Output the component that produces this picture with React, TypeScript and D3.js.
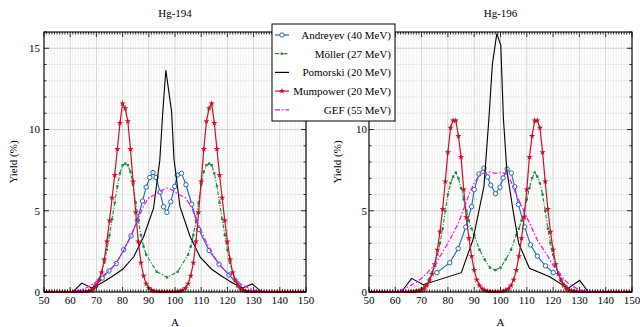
import React from "react";
import * as d3 from "d3";

const W = 640;
const H = 327;
const FONT = "'Liberation Serif', 'Times New Roman', serif";

// mass number grid used by the Mumpower series (A = 50 .. 150)
const massGrid = d3.range(50, 151);

const mumpower194 = [
  0, 0, 0, 0, 0, 0, 0, 0, 0, 0,
  0, 0, 0, 0, 0, 0.01, 0.02, 0.05, 0.1, 0.2,
  0.4, 0.7, 1.2, 2.0, 3.1, 4.4, 5.8, 7.2, 8.8, 10.4,
  11.6, 11.3, 10.5, 8.8, 6.8, 4.9, 3.1, 1.8, 1.0, 0.5,
  0.25, 0.12, 0.06, 0.03, 0.02, 0.01, 0.01, 0.01, 0.01, 0.01,
  0.02, 0.03, 0.06, 0.12, 0.25, 0.5, 1.0, 1.8, 3.1, 4.9,
  6.8, 8.8, 10.5, 11.3, 11.6, 10.4, 8.8, 7.2, 5.8, 4.4,
  3.1, 2.0, 1.2, 0.7, 0.4, 0.2, 0.1, 0.05, 0.02, 0.01,
  0, 0, 0, 0, 0, 0, 0, 0, 0, 0,
  0, 0, 0, 0, 0, 0, 0, 0, 0, 0,
  0,
];

const mumpower196 = [
  0, 0, 0, 0, 0, 0, 0, 0, 0, 0,
  0, 0, 0, 0, 0, 0, 0.01, 0.02, 0.04, 0.07,
  0.12, 0.2, 0.4, 0.7, 1.1, 1.7, 2.6, 3.7, 5.1, 6.8,
  8.6, 10.1, 10.55, 10.55, 9.6, 8.3, 6.3, 4.6, 3.3, 2.2,
  1.35, 0.75, 0.4, 0.2, 0.1, 0.05, 0.03, 0.02, 0.02, 0.02,
  0.03, 0.05, 0.1, 0.2, 0.4, 0.75, 1.35, 2.2, 3.3, 4.6,
  6.3, 8.3, 9.6, 10.55, 10.55, 10.1, 8.6, 6.8, 5.1, 3.7,
  2.6, 1.7, 1.1, 0.7, 0.4, 0.2, 0.12, 0.07, 0.04, 0.02,
  0.01, 0, 0, 0, 0, 0, 0, 0, 0, 0,
  0, 0, 0, 0, 0, 0, 0, 0, 0, 0,
  0,
];

const andreyev194: [number, number][] = [
  [69.8, 0.4], [72.2, 0.85], [74.8, 1.3], [77.6, 1.75], [80.4, 2.6], [83.2, 3.45],
  [85.6, 4.4], [87.6, 5.6], [89.0, 6.45], [90.4, 7.05], [91.6, 7.35], [92.8, 7.05],
  [94.3, 6.15], [95.6, 5.25], [96.9, 4.9], [98.4, 5.55], [99.9, 6.5], [100.9, 7.2],
  [102.5, 7.3], [104.2, 6.6], [106.4, 5.4], [109.1, 3.85], [113.0, 2.55], [116.8, 1.72],
  [120.6, 1.05], [124.3, 0.42],
];

const andreyev196: [number, number][] = [
  [75.8, 1.19], [80.7, 1.8], [83.9, 2.67], [86.8, 4.0], [89.0, 5.25], [90.0, 6.3],
  [91.8, 7.26], [93.7, 7.62], [95.1, 7.08], [96.3, 6.58], [98.1, 6.05], [99.8, 6.45],
  [101.0, 7.02], [102.5, 7.57], [104.1, 7.32], [105.4, 6.48], [106.8, 5.38], [109.2, 4.0],
  [111.4, 2.9], [114.0, 2.21], [117.1, 1.61], [120.1, 1.19],
];

const moller194: [number, number][] = [
  [60, 0], [62, 0], [64, 0.02], [66, 0.05], [68, 0.15],
  [69, 0.3], [70, 0.5], [71, 0.8], [72, 1.2], [73, 1.8], [74, 2.6], [75, 3.5], [76, 4.5],
  [77, 5.5], [78, 6.5], [79, 7.3], [80, 7.8], [81, 7.9], [82, 7.8], [83, 7.4], [84, 6.6],
  [85, 5.5], [86, 4.4], [87, 3.5], [88, 2.8], [89, 2.3],
  [93, 1.25], [97, 0.9], [101, 1.25],
  [105, 2.3], [106, 2.8], [107, 3.5], [108, 4.4], [109, 5.5], [110, 6.6], [111, 7.4],
  [112, 7.8], [113, 7.9], [114, 7.8], [115, 7.3], [116, 6.5], [117, 5.5], [118, 4.5],
  [119, 3.5], [120, 2.6], [121, 1.8], [122, 1.2], [123, 0.8], [124, 0.5], [125, 0.3], [126, 0.15],
  [128, 0.05], [130, 0.02], [132, 0], [134, 0],
];

const moller196: [number, number][] = [
  [62, 0], [64, 0], [66, 0.03], [68, 0.1],
  [70, 0.2], [71, 0.35], [72, 0.5], [73, 0.8], [74, 1.2], [75, 1.6], [76, 2.3], [77, 3.0],
  [78, 3.9], [79, 5.0], [80, 6.0], [81, 6.7], [82, 7.1], [83, 7.35], [84, 7.0], [85, 6.4],
  [86, 5.7], [87, 5.0], [88, 4.4], [89, 3.9], [90, 3.5],
  [92, 2.6], [94, 2.0], [96, 1.5], [98, 1.35], [100, 1.5], [102, 2.0], [104, 2.6],
  [106, 3.5], [107, 3.9], [108, 4.4], [109, 5.0], [110, 5.7], [111, 6.4], [112, 7.0],
  [113, 7.35], [114, 7.1], [115, 6.7], [116, 6.0], [117, 5.0], [118, 3.9], [119, 3.0],
  [120, 2.3], [121, 1.6], [122, 1.2], [123, 0.8], [124, 0.5], [125, 0.35], [126, 0.2],
  [128, 0.1], [130, 0.03], [132, 0], [134, 0],
];

const pomorski194: [number, number][] = [
  [50, 0], [61, 0], [64.4, 0.55], [68.2, 0.25], [72, 0.55], [76, 0.95], [80, 1.4],
  [84.2, 2.15], [88, 3.4], [91.8, 5.15], [94.2, 8.1], [95.3, 11.0], [96.5, 13.65],
  [98.7, 11.1], [99.6, 8.2], [101.9, 5.25], [105.8, 3.4], [109.6, 2.15], [114, 1.4],
  [118, 0.95], [122, 0.55], [125.8, 0.25], [129.5, 0.5], [133, 0], [150, 0],
];

const pomorski196: [number, number][] = [
  [50, 0], [62.3, 0], [66.2, 0.84], [70.6, 0.45], [85.1, 1.19], [89.5, 3.2], [93.7, 6.5],
  [95.6, 10.7], [96.9, 14.0], [98.6, 15.9], [100.1, 15.2], [101.1, 10.7], [102.4, 7.5],
  [104.9, 4.9], [106.9, 3.0], [111, 1.46], [118.7, 0.94], [125.7, 0.22], [130.1, 0.72],
  [133.4, 0], [150, 0],
];

const gef194: [number, number][] = [
  [58, 0], [60, 0.02], [62, 0.05], [64, 0.12], [66, 0.25], [68, 0.42], [70, 0.65],
  [72, 0.9], [74, 1.2], [76, 1.5], [78, 1.9], [80, 2.45], [82, 3.05], [84, 3.75],
  [86, 4.55], [88, 5.3], [90, 5.8], [92, 5.95], [94, 6.15], [96, 6.35], [97, 6.4],
  [98, 6.35], [100, 6.15], [102, 5.95], [104, 5.8], [106, 5.3], [108, 4.55], [110, 3.75],
  [112, 3.05], [114, 2.45], [116, 1.9], [118, 1.5], [120, 1.2], [122, 0.9], [124, 0.65],
  [126, 0.42], [128, 0.25], [130, 0.12], [132, 0.05], [134, 0.02], [136, 0],
];

const gef196: [number, number][] = [
  [58, 0], [60, 0.03], [62, 0.1], [64, 0.25], [66, 0.42], [68, 0.6], [70, 0.85],
  [72, 1.15], [74, 1.5], [76, 1.95], [78, 2.45], [80, 3.0], [82, 3.6], [84, 4.25],
  [86, 5.1], [88, 6.0], [90, 6.7], [92, 7.2], [94, 7.35], [96, 7.4], [98, 7.3],
  [100, 7.35], [102, 7.3], [104, 6.8], [106, 6.0], [108, 5.3], [110, 4.6], [112, 3.9],
  [114, 3.2], [116, 2.7], [118, 2.2], [120, 1.65], [122, 1.2], [124, 0.8], [126, 0.5],
  [128, 0.3], [130, 0.15], [132, 0.07], [134, 0.02], [136, 0],
];

const xTicks = [50, 60, 70, 80, 90, 100, 110, 120, 130, 140, 150];
const yTicks = [0, 5, 10, 15];

const legendItems = [
  { key: "andreyev", label: "Andreyev (40 MeV)" },
  { key: "moller", label: "Möller (27 MeV)" },
  { key: "pomorski", label: "Pomorski (20 MeV)" },
  { key: "mumpower", label: "Mumpower (20 MeV)" },
  { key: "gef", label: "GEF (55 MeV)" },
];

const C = {
  andreyev: "#1f6aa5",
  moller: "#1f8a3f",
  pomorski: "#000000",
  mumpower: "#c8102e",
  gef: "#ff00ff",
};
const DASH = { moller: "4,1.6,1.2,1.6", gef: "5,2,1.5,2" };

const TOP = 32;
const BOTTOM = 292;

function Marker({ kind, cx, cy }: { kind: string; cx: number; cy: number }) {
  if (kind === "andreyev")
    return <circle cx={cx} cy={cy} r={2.2} fill="white" stroke={C.andreyev} strokeWidth={1} />;
  if (kind === "moller")
    return <rect x={cx - 1.2} y={cy - 1.2} width={2.4} height={2.4} fill={C.moller} />;
  if (kind === "mumpower")
    return (
      <path
        transform={`translate(${cx},${cy})`}
        d={d3.symbol(d3.symbolStar, 12)() || ""}
        fill={C.mumpower}
      />
    );
  return null;
}

function Panel({ left, right, title, series, labelGap, yLabelX }: any) {
  const x = d3.scaleLinear().domain([50, 150]).range([left, right]);
  const y = d3.scaleLinear().domain([0, 16]).range([BOTTOM, TOP]);
  const line = d3
    .line<[number, number]>()
    .x((d) => x(d[0]))
    .y((d) => y(d[1]));
  const minorX = d3.range(50, 151);
  const minorY = d3.range(0, 17);
  const clipId = "clip" + left;
  const cx = (left + right) / 2;

  return (
    <g>
      <defs>
        <clipPath id={clipId}>
          <rect x={left} y={TOP - 1} width={right - left} height={BOTTOM - TOP + 2} />
        </clipPath>
      </defs>
      {/* grid */}
      {minorX.map((a) => (
        <line key={"gx" + a} x1={x(a)} x2={x(a)} y1={TOP} y2={BOTTOM}
          stroke={a % 10 === 0 ? "#cdcdcd" : "#ececec"} strokeWidth={a % 10 === 0 ? 0.9 : 0.7} />
      ))}
      {minorY.map((v) => (
        <line key={"gy" + v} x1={left} x2={right} y1={y(v)} y2={y(v)}
          stroke={v % 5 === 0 ? "#cdcdcd" : "#e6e6e6"} strokeWidth={v % 5 === 0 ? 0.9 : 0.8} />
      ))}

      {/* series */}
      <g clipPath={`url(#${clipId})`} fill="none">
        <path d={line(series.andreyev) || ""} stroke={C.andreyev} strokeWidth={1.1} fill="none" />
        {series.andreyev.map((d: number[], i: number) => (
          <Marker key={"a" + i} kind="andreyev" cx={x(d[0])} cy={y(d[1])} />
        ))}
        <path d={line(series.moller) || ""} stroke={C.moller} strokeWidth={1.1}
          strokeDasharray={DASH.moller} fill="none" />
        {series.moller.map((d: number[], i: number) => (
          <Marker key={"m" + i} kind="moller" cx={x(d[0])} cy={y(d[1])} />
        ))}
        <path d={line(series.pomorski) || ""} stroke={C.pomorski} strokeWidth={1.1} fill="none" />
        <path d={line(series.mumpower) || ""} stroke={C.mumpower} strokeWidth={1.2} fill="none" />
        {series.mumpower.map((d: number[], i: number) => (
          <Marker key={"u" + i} kind="mumpower" cx={x(d[0])} cy={y(d[1])} />
        ))}
        <path d={line(series.gef) || ""} stroke={C.gef} strokeWidth={1.2}
          strokeDasharray={DASH.gef} fill="none" />
      </g>

      {/* frame and ticks */}
      <rect x={left} y={TOP} width={right - left} height={BOTTOM - TOP}
        fill="none" stroke="black" strokeWidth={1.1} />
      {minorX.map((a) => {
        const len = a % 10 === 0 ? 5 : 2.5;
        return (
          <g key={"tx" + a} stroke="black" strokeWidth={0.8}>
            <line x1={x(a)} x2={x(a)} y1={BOTTOM} y2={BOTTOM - len} />
            <line x1={x(a)} x2={x(a)} y1={TOP} y2={TOP + len} />
          </g>
        );
      })}
      {minorY.map((v) => {
        const len = v % 5 === 0 ? 5 : 2.5;
        return (
          <g key={"ty" + v} stroke="black" strokeWidth={0.8}>
            <line x1={left} x2={left + len} y1={y(v)} y2={y(v)} />
            <line x1={right} x2={right - len} y1={y(v)} y2={y(v)} />
          </g>
        );
      })}

      {/* labels */}
      <g fontFamily={FONT} fontSize={11} fill="black">
        {xTicks.map((t) => (
          <text key={"lx" + t} x={x(t)} y={304} textAnchor="middle">{t}</text>
        ))}
        {yTicks.map((t) => (
          <text key={"ly" + t} x={left - labelGap} y={y(t) + 3.8} textAnchor="end">{t}</text>
        ))}
        <text x={cx} y={17} textAnchor="middle">{title}</text>
        <text x={cx} y={326} textAnchor="middle">A</text>
        <text transform={`translate(${yLabelX},${(TOP + BOTTOM) / 2}) rotate(-90)`} textAnchor="middle">
          Yield (%)
        </text>
      </g>
    </g>
  );
}

function Legend() {
  const x0 = 272, y0 = 24, w = 123, h = 97;
  return (
    <g>
      <rect x={x0} y={y0} width={w} height={h} fill="white" stroke="black" strokeWidth={1} />
      {legendItems.map((it, i) => {
        const cy = 35 + i * 18.7;
        const key = it.key as keyof typeof C;
        return (
          <g key={it.key}>
            <line x1={275} x2={289} y1={cy} y2={cy} stroke={C[key]} strokeWidth={1.2}
              strokeDasharray={key === "moller" ? DASH.moller : key === "gef" ? DASH.gef : undefined} />
            <Marker kind={it.key} cx={282} cy={cy} />
            <text x={391} y={cy + 3.8} textAnchor="end" fontFamily={FONT} fontSize={11}>{it.label}</text>
          </g>
        );
      })}
    </g>
  );
}

export default function App() {
  const mp194 = massGrid.map((a, i) => [a, mumpower194[i]] as [number, number]);
  const mp196 = massGrid.map((a, i) => [a, mumpower196[i]] as [number, number]);
  return (
    <svg width={W} height={H} style={{ position: "absolute", left: 0, top: 0, background: "white" }}>
      <Panel left={44} right={306} title="Hg-194" labelGap={4} yLabelX={17}
        series={{ andreyev: andreyev194, moller: moller194, pomorski: pomorski194, mumpower: mp194, gef: gef194 }} />
      <Panel left={369} right={632} title="Hg-196" labelGap={2} yLabelX={341}
        series={{ andreyev: andreyev196, moller: moller196, pomorski: pomorski196, mumpower: mp196, gef: gef196 }} />
      <Legend />
    </svg>
  );
}
